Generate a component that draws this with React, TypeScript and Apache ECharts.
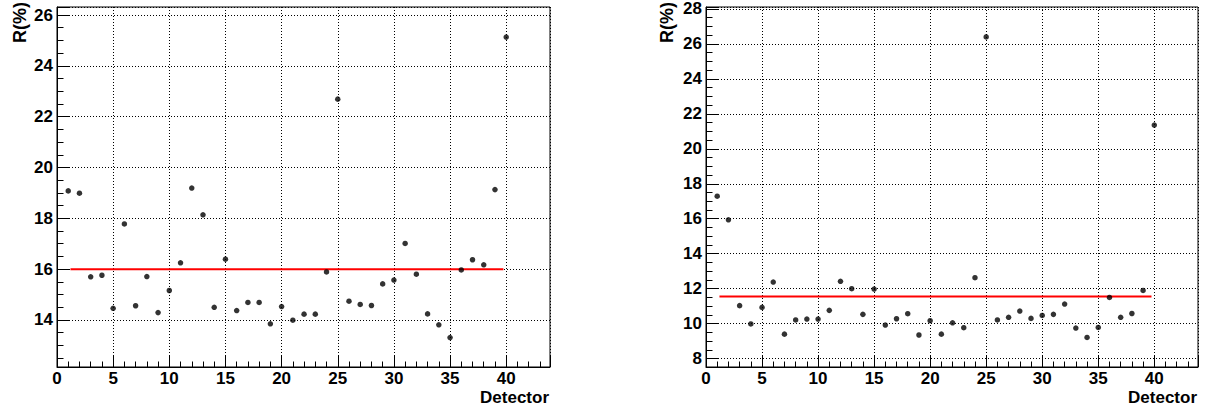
import React, { useEffect, useRef } from "react";
import * as echarts from "echarts";

const detectors: number[] = Array.from({ length: 40 }, (_, i) => i + 1);

const leftValues: number[] = [
  19.08, 18.99, 15.7, 15.76, 14.46, 17.78, 14.56, 15.71, 14.29, 15.16,
  16.25, 19.19, 18.14, 14.5, 16.39, 14.37, 14.69, 14.69, 13.85, 14.53,
  13.99, 14.23, 14.23, 15.89, 22.69, 14.74, 14.61, 14.57, 15.42, 15.57,
  17.01, 15.8, 14.24, 13.81, 13.31, 15.97, 16.37, 16.17, 19.13, 25.13,
];

const rightValues: number[] = [
  17.29, 15.94, 11.03, 9.98, 10.93, 12.38, 9.4, 10.21, 10.26, 10.26,
  10.76, 12.42, 12.0, 10.53, 11.98, 9.92, 10.28, 10.57, 9.35, 10.17,
  9.4, 10.05, 9.77, 12.63, 26.4, 10.21, 10.36, 10.72, 10.3, 10.47,
  10.53, 11.12, 9.75, 9.21, 9.78, 11.5, 10.36, 10.58, 11.9, 21.36,
];

const leftFit = 16.0;
const rightFit = 11.55;
const fitRange: number[] = [1.2, 39.75];

const xRange: number[] = [0, 43.9];
const leftYRange: number[] = [12.15, 26.315];
const rightYRange: number[] = [7.52, 28.11];

const xTitle = "Detector";
const yTitle = "R(%)";

const FONT = '"Liberation Sans", Arial, Helvetica, sans-serif';

function makeX(gridIndex: number) {
  return {
    type: "value",
    gridIndex,
    min: xRange[0],
    max: xRange[1],
    minInterval: 5,
    maxInterval: 5,
    axisLine: { show: true, onZero: false, lineStyle: { color: "#000", width: 1 } },
    axisTick: { show: true, inside: true, length: 11, lineStyle: { color: "#000", width: 1 } },
    minorTick: { show: true, splitNumber: 5, length: 5.5, lineStyle: { color: "#000", width: 1 } },
    splitLine: { show: true, lineStyle: { color: "#000", width: 1, type: [1, 2] } },
    axisLabel: {
      show: true,
      showMaxLabel: false,
      margin: 3,
      color: "#000",
      fontFamily: FONT,
      fontWeight: "bold",
      fontSize: 17,
    },
  };
}

function makeY(gridIndex: number, range: number[]) {
  return {
    type: "value",
    gridIndex,
    min: range[0],
    max: range[1],
    minInterval: 2,
    maxInterval: 2,
    axisLine: { show: true, onZero: false, lineStyle: { color: "#000", width: 1 } },
    axisTick: { show: true, inside: true, length: 13, lineStyle: { color: "#000", width: 1 } },
    minorTick: { show: true, splitNumber: 4, length: 6.5, lineStyle: { color: "#000", width: 1 } },
    splitLine: { show: true, lineStyle: { color: "#000", width: 1, type: [1, 2] } },
    axisLabel: {
      show: true,
      showMinLabel: false,
      showMaxLabel: false,
      margin: 4,
      color: "#000",
      fontFamily: FONT,
      fontWeight: "bold",
      fontSize: 17,
    },
  };
}

function points(values: number[]) {
  return values.map((v, i) => [detectors[i], v]);
}

export default function App() {
  const ref = useRef<HTMLDivElement>(null);
  useEffect(() => {
    if (!ref.current) return;
    const chart = echarts.init(ref.current, undefined, { renderer: "svg" });
    const grids = [
      { left: 57, top: 7, width: 493, height: 360 },
      { left: 706, top: 7, width: 492, height: 360 },
    ];
    const titleStyle = {
      fontFamily: FONT,
      fontWeight: "bold",
      fontSize: 17,
      fill: "#000",
    };
    chart.setOption({
      animation: false,
      backgroundColor: "#fff",
      grid: grids.map((g) => ({
        ...g,
        show: true,
        borderColor: "#000",
        borderWidth: 1,
        backgroundColor: "transparent",
        containLabel: false,
      })),
      xAxis: [makeX(0), makeX(1)],
      yAxis: [makeY(0, leftYRange), makeY(1, rightYRange)],
      series: [
        {
          type: "scatter",
          xAxisIndex: 0,
          yAxisIndex: 0,
          symbol: "circle",
          symbolSize: 5.5,
          itemStyle: { color: "#000" },
          data: points(leftValues),
          z: 5,
        },
        {
          type: "line",
          xAxisIndex: 0,
          yAxisIndex: 0,
          showSymbol: false,
          symbol: "none",
          lineStyle: { color: "#ff0000", width: 2 },
          data: [
            [fitRange[0], leftFit],
            [fitRange[1], leftFit],
          ],
          z: 4,
        },
        {
          type: "scatter",
          xAxisIndex: 1,
          yAxisIndex: 1,
          symbol: "circle",
          symbolSize: 5.5,
          itemStyle: { color: "#000" },
          data: points(rightValues),
          z: 5,
        },
        {
          type: "line",
          xAxisIndex: 1,
          yAxisIndex: 1,
          showSymbol: false,
          symbol: "none",
          lineStyle: { color: "#ff0000", width: 2 },
          data: [
            [fitRange[0], rightFit],
            [fitRange[1], rightFit],
          ],
          z: 4,
        },
      ],
      graphic: [
        {
          type: "text",
          x: 549,
          y: 397,
          style: { ...titleStyle, text: xTitle, textAlign: "right", textVerticalAlign: "middle" },
        },
        {
          type: "text",
          x: 1197,
          y: 397,
          style: { ...titleStyle, text: xTitle, textAlign: "right", textVerticalAlign: "middle" },
        },
        {
          type: "text",
          x: 20,
          y: 2,
          rotation: Math.PI / 2,
          style: { ...titleStyle, fontSize: 18, text: yTitle, textAlign: "right", textVerticalAlign: "middle" },
        },
        {
          type: "text",
          x: 667,
          y: 2,
          rotation: Math.PI / 2,
          style: { ...titleStyle, fontSize: 18, text: yTitle, textAlign: "right", textVerticalAlign: "middle" },
        },
      ],
    });
    return () => chart.dispose();
  }, []);
  return (
    <div
      ref={ref}
      style={{ position: "fixed", left: 0, top: 0, width: 1212, height: 408, background: "#fff" }}
    />
  );
}
